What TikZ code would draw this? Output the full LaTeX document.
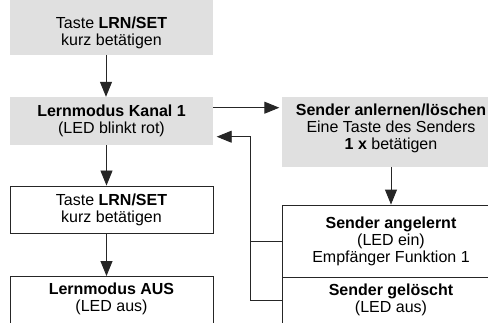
\documentclass[tikz,border=0pt]{standalone}
\usepackage{fontspec}
\setmainfont{Liberation Sans}
\usetikzlibrary{arrows.meta}

\definecolor{boxgray}{RGB}{224,224,224}
\definecolor{linegray}{RGB}{38,38,38}

\tikzset{
  box/.style={inner sep=0pt, align=center, font=\fontsize{16}{17}\selectfont,
    minimum width=203pt, minimum height=48pt},
  graybox/.style={box, fill=boxgray},
  whitebox/.style={box, fill=white, draw=linegray, line width=0.9pt},
  wide/.style={minimum width=218pt},
  wire/.style={draw=linegray, line width=0.9pt},
  flow/.style={wire, -{Triangle[length=15pt,width=12pt]}},
}

\begin{document}
\begin{tikzpicture}[x=1pt,y=1pt]
\useasboundingbox (0,0) rectangle (488,322);
% left column
\node[graybox, anchor=south, minimum height=0pt, inner ysep=6pt, text height=40pt] (taste1) at (111.5,267) {Taste \textbf{LRN/SET}\\kurz betätigen};
\node[graybox] (kanal) at (111.5,201) {\textbf{Lernmodus Kanal 1}\\(LED blinkt rot)};
\node[whitebox, minimum height=47pt] (taste2) at (111.5,112.5) {Taste \textbf{LRN/SET}\\kurz betätigen};
\node[whitebox, anchor=north, minimum height=0pt, inner ysep=6pt, text depth=30pt] (aus) at (111.5,46) {\textbf{Lernmodus AUS}\\(LED aus)};
% right column
\node[graybox, wide, anchor=north, minimum height=0pt, inner ysep=6.3pt, text depth=11.7pt] (anlernen) at (391,225) {\textbf{Sender anlernen/löschen}\\Eine Taste des Senders\\\textbf{1 x} betätigen};
\node[whitebox, wide, minimum height=72pt] (angelernt) at (391,81) {\textbf{Sender angelernt}\\(LED ein)\\Empfänger Funktion 1};
\node[whitebox, wide, anchor=north, minimum height=0pt, inner ysep=6pt, text depth=30pt] (geloescht) at (angelernt.south) {\textbf{Sender gelöscht}\\(LED aus)};
\coordinate (knick) at (250,185.3);

% connectors
\draw[flow] ([xshift=-5.5pt]taste1.south) -- ([xshift=-5.5pt]kanal.north);
\draw[flow] ([xshift=-5pt]kanal.south) -- ([xshift=-5pt]taste2.north);
\draw[flow] ([xshift=-5pt]taste2.south) -- ([xshift=-5pt]aus.north);
\draw[flow, shorten >=2.5pt] ([yshift=13.3pt]kanal.east) -- ([yshift=13.3pt]kanal.east -| anlernen.west);
\draw[flow] (anlernen.south) -- (angelernt.north);
\draw[flow, shorten >=3.5pt] (angelernt.west) -| (knick) -- (knick -| kanal.east);
\draw[wire] ([yshift=-23pt]geloescht.north west) -| (knick);
\end{tikzpicture}
\end{document}
